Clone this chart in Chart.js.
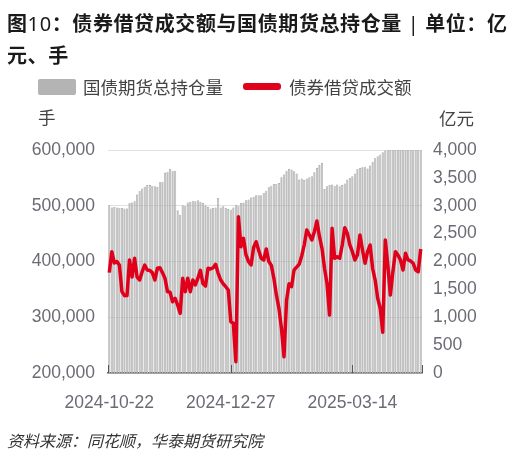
<!DOCTYPE html>
<html><head><meta charset="utf-8">
<script src="https://cdn.jsdelivr.net/npm/chart.js@4.4.1/dist/chart.umd.min.js"></script>
<style>
html,body{margin:0;padding:0;background:#fff;width:519px;height:458px;overflow:hidden;}
#wrap{position:relative;width:519px;height:458px;}
canvas{position:absolute;left:0;top:0;}
.t{position:absolute;white-space:nowrap;font-family:"Noto Sans CJK SC","Noto Sans",sans-serif;}
#title{left:7px;top:7px;font-size:20px;font-weight:bold;line-height:31px;color:#1a1a1a;letter-spacing:0.6px;}
#title .n{font-weight:normal;font-family:"Noto Sans","Noto Sans CJK SC",sans-serif;}
.lg{font-size:17.5px;color:#444;line-height:20px;}
</style></head>
<body><div id="wrap">
<canvas id="c" width="519" height="458"></canvas>
<div id="title" class="t">图<span class="n">10</span>：债券借贷成交额与国债期货总持仓量<span class="n">&nbsp;|&nbsp;</span>单位：亿<br>元、手</div>
<div class="t" style="left:38px;top:79px;width:38px;height:16px;background:#b4b4b4;border-radius:2px;"></div>
<div class="t lg" style="left:83px;top:77px;">国债期货总持仓量</div>
<div class="t" style="left:243px;top:83px;width:38px;height:6.5px;background:#e0001b;border-radius:3px;"></div>
<div class="t lg" style="left:289px;top:77px;">债券借贷成交额</div>
<div class="t lg" style="left:38px;top:107px;">手</div>
<div class="t lg" style="left:439px;top:108px;">亿元</div>
<div class="t" style="left:7px;top:430px;font-size:16px;line-height:20px;font-style:italic;color:#333;">资料来源：同花顺，华泰期货研究院</div>
</div>
<script>
const labels = [
'2024-10-22','2024-10-23','2024-10-24','2024-10-25','2024-10-28','2024-10-29','2024-10-30','2024-10-31',
'2024-11-01','2024-11-04','2024-11-05','2024-11-06','2024-11-07','2024-11-08','2024-11-11','2024-11-12','2024-11-13','2024-11-14','2024-11-15','2024-11-18','2024-11-19','2024-11-20','2024-11-21','2024-11-22','2024-11-25','2024-11-26','2024-11-27','2024-11-28','2024-11-29',
'2024-12-02','2024-12-03','2024-12-04','2024-12-05','2024-12-06','2024-12-09','2024-12-10','2024-12-11','2024-12-12','2024-12-13','2024-12-16','2024-12-17','2024-12-18','2024-12-19','2024-12-20','2024-12-23','2024-12-24','2024-12-25','2024-12-26','2024-12-27','2024-12-30','2024-12-31',
'2025-01-02','2025-01-03','2025-01-06','2025-01-07','2025-01-08','2025-01-09','2025-01-10','2025-01-13','2025-01-14','2025-01-15','2025-01-16','2025-01-17','2025-01-20','2025-01-21','2025-01-22','2025-01-23','2025-01-24','2025-01-27',
'2025-02-05','2025-02-06','2025-02-07','2025-02-10','2025-02-11','2025-02-12','2025-02-13','2025-02-14','2025-02-17','2025-02-18','2025-02-19','2025-02-20','2025-02-21','2025-02-24','2025-02-25','2025-02-26','2025-02-27','2025-02-28',
'2025-03-03','2025-03-04','2025-03-05','2025-03-06','2025-03-07','2025-03-10','2025-03-11','2025-03-12','2025-03-13','2025-03-14','2025-03-17','2025-03-18','2025-03-19','2025-03-20','2025-03-21','2025-03-24','2025-03-25','2025-03-26','2025-03-27','2025-03-28','2025-03-31',
'2025-04-01','2025-04-02','2025-04-03','2025-04-07','2025-04-08','2025-04-09','2025-04-10','2025-04-11','2025-04-14','2025-04-15','2025-04-16','2025-04-17','2025-04-18','2025-04-21','2025-04-22','2025-04-23'
];
// 国债期货总持仓量 (手)
const openInterest = [
501000,497000,498000,497000,496000,496000,495000,495000,
505000,506000,508000,520000,527000,531000,534000,537000,
537000,536000,535000,534000,542000,543000,559000,561000,
566000,563000,563000,492000,484000,501000,499000,506000,
507000,509000,508000,510000,507000,505000,501000,498000,
495000,496000,497000,514000,497000,499000,496000,494000,
493000,497000,502000,500000,505000,506000,510000,511000,
515000,516000,519000,519000,519000,523000,527000,533000,
536000,539000,539000,541000,551000,556000,563000,566000,
565000,562000,558000,547000,549000,546000,549000,551000,
553000,560000,568000,573000,577000,530000,535000,537000,
538000,536000,538000,535000,537000,540000,547000,550000,
553000,558000,566000,568000,569000,569000,567000,572000,
579000,585000,589000,592000,596000,599000,603000,606000,
608000,610000,612000,615000,617000,619000,620000,622000,
625000,627000,628000,630000
];
// 债券借贷成交额 (亿元)
const lendingVolume = [
1800,2176,1973,1997,1937,1459,1387,1390,2027,1720,
2058,1720,1668,1817,1937,1848,1840,1800,1668,1878,
1889,1800,1698,1459,1448,1279,1340,1220,1071,1698,
1459,1698,1459,1668,1579,1700,1842,1600,1560,1878,
1866,1889,1950,1789,1668,1600,1548,1489,920,891,
203,2804,2266,2416,2117,1997,1937,2250,2355,2200,
2058,2027,2225,2000,1930,1700,1400,1161,800,292,
1300,1600,1550,1850,1900,1950,2100,2300,2565,2480,
2386,2535,2727,2450,2237,1878,1600,1040,2596,2058,
2086,2058,2296,2607,2506,2300,2176,2027,2117,2476,
2207,1968,2176,2296,1878,1668,1340,1161,730,2386,
1937,1399,1817,2176,2117,2027,1848,2147,2027,2009,
1968,1848,1817,2225
];
const tickIdx = [0,48,96];
const leftTicks = [200000,300000,400000,500000,600000];
const rightTicks = [0,500,1000,1500,2000,2500,3000,3500,4000];

const tickFont = {family:'"Liberation Sans", Arial, sans-serif', size:17.5};
const tickColor = '#6b6b75';

const innerTicks = {
  id:'innerTicks',
  afterDraw(chart){
    const {ctx, chartArea:a, scales:{x}} = chart;
    const xs = [a.left, ...tickIdx.slice(1).map(i=>x.getPixelForValue(i)), a.right];
    ctx.save();
    ctx.strokeStyle = '#555';
    ctx.lineWidth = 1;
    ctx.beginPath();
    xs.forEach(px=>{ const p=Math.round(px)+0.5; ctx.moveTo(p,a.bottom); ctx.lineTo(p,a.bottom-8); });
    ctx.stroke();
    ctx.restore();
  }
};

new Chart(document.getElementById('c'), {
  data:{
    labels: labels,
    datasets:[
      {type:'line', label:'债券借贷成交额', data:lendingVolume, yAxisID:'y1', borderColor:'#e0001b', borderWidth:3.5, pointRadius:0, tension:0, borderJoinStyle:'round', order:0},
      {type:'bar', label:'国债期货总持仓量', data:openInterest, yAxisID:'y', backgroundColor:'#bdbdbd', borderColor:'#999999', borderWidth:0.6, barPercentage:0.95, categoryPercentage:0.9, order:1}
    ]
  },
  options:{
    responsive:false, animation:false,
    layout:{padding:{top:150,left:0,right:0,bottom:0}},
    plugins:{legend:{display:false}, title:{display:false}, tooltip:{enabled:false}},
    scales:{
      x:{
        offset:true,
        grid:{display:false},
        border:{display:true,color:'#666',width:1.5},
        afterBuildTicks(s){ s.ticks = s.ticks.filter(t=>tickIdx.includes(t.value)); },
        ticks:{autoSkip:false,maxRotation:0,minRotation:0,padding:12,font:tickFont,color:tickColor,
          callback(v){ return labels[v]; }},
        afterFit(s){ s.height = 85; }
      },
      y:{
        position:'left', min:200000, max:600000,
        afterBuildTicks(s){ s.ticks = leftTicks.map(v=>({value:v})); },
        grid:{color:'#dde1e8',lineWidth:1,drawTicks:false},
        border:{display:false},
        ticks:{padding:13,font:tickFont,color:tickColor,callback(v){return v.toLocaleString('en-US');}},
        afterFit(s){ s.width = 108; }
      },
      y1:{
        position:'right', min:0, max:4000,
        afterBuildTicks(s){ s.ticks = rightTicks.map(v=>({value:v})); },
        grid:{drawOnChartArea:false,drawTicks:false},
        border:{display:false},
        ticks:{padding:11,font:tickFont,color:tickColor,callback(v){return v.toLocaleString('en-US');}},
        afterFit(s){ s.width = 97; }
      }
    }
  },
  plugins:[innerTicks]
});
</script>
</body></html>
